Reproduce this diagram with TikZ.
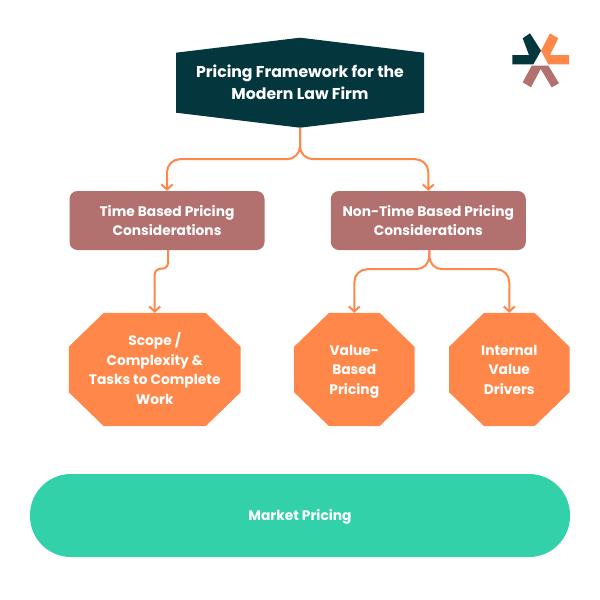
\documentclass[tikz,border=0pt]{standalone}
\usepackage{fontspec}
\usepackage{xcolor}
\usepackage{tikz}
\usetikzlibrary{arrows.meta,backgrounds}
\setmainfont{Poppins}
\definecolor{darkteal}{HTML}{03363D}
\definecolor{rosebrown}{HTML}{B2706E}
\definecolor{brightorange}{HTML}{FF8749}
\definecolor{marketgreen}{HTML}{33D1A9}
\newcommand{\labelstrut}{\rule{0pt}{1.2em}}

\begin{document}
\begin{tikzpicture}[x=1pt, y=1pt, >={Straight Barb[length=5pt,width=11pt]},
    label text/.style={text=white, font=\bfseries\fontsize{13.8pt}{19.6pt}\selectfont, align=center, inner sep=0pt},
    rose box/.style={label text, fill=rosebrown, rounded corners=8pt, minimum width=195pt, minimum height=59pt},
    octa box/.style={label text, minimum height=113pt},
    link/.style={->, draw=brightorange, line width=2pt}]
    \useasboundingbox (0,0) rectangle (600,-600);

    \fill[darkteal] (176,-52.7) -- (300,-37.7) -- (424,-52.7) -- (424,-112.7) -- (300,-127.7) -- (176,-112.7) -- cycle;
    \node[label text, font=\bfseries\fontsize{15.7pt}{22pt}\selectfont, minimum width=248pt, minimum height=90pt] (framework) at (300,-82.7) {\labelstrut Pricing Framework for the\\Modern Law Firm\strut};

    \node[rose box, below of=framework, node distance=137.8pt, xshift=-133pt] (timebased) {\labelstrut Time Based Pricing\\Considerations\strut};
    \node[rose box, below of=framework, node distance=137.8pt, xshift=128.3pt] (nontime) {\labelstrut Non-Time Based Pricing\\Considerations\strut};
    \node[octa box, minimum width=171.5pt, below of=timebased, node distance=149pt, xshift=-12.3pt] (scope) {\labelstrut Scope /\\Complexity \&\\Tasks to Complete\\Work\strut};
    \node[octa box, minimum width=120pt, below of=nontime, node distance=149pt, xshift=-74pt] (value) {\labelstrut Value-\\Based\\Pricing\strut};
    \node[octa box, minimum width=120pt, below of=nontime, node distance=149pt, xshift=81pt] (internal) {\labelstrut Internal\\Value\\Drivers\strut};
    \node[label text, fill=marketgreen, rounded corners=41pt, minimum width=540pt, minimum height=83pt, below of=framework, node distance=432.8pt] (market) {\labelstrut Market Pricing\strut};

    % octagons go behind their texts
    \begin{scope}[on background layer]
        \foreach \boxname in {scope,value,internal}
            \fill[brightorange] ([xshift=35pt]\boxname.north west) -- ([xshift=-35pt]\boxname.north east) -- ([yshift=-34pt]\boxname.north east) -- ([yshift=34pt]\boxname.south east) -- ([xshift=-35pt]\boxname.south east) -- ([xshift=35pt]\boxname.south west) -- ([yshift=34pt]\boxname.south west) -- ([yshift=-34pt]\boxname.north west) -- cycle;
    \end{scope}

    \draw[link, rounded corners=13pt] (framework.south) -- ++(0,-31.3) -| (timebased.north);
    \draw[link, rounded corners=13pt] (framework.south) -- ++(0,-31.3) -| (nontime.north);
    \draw[link, rounded corners=6pt] ([xshift=1pt]timebased.south) -- ++(0,-18.5) -| (scope.north);
    \draw[link, rounded corners=13pt] ([xshift=1pt]nontime.south) -- ++(0,-19) -| (value.north);
    \draw[link, rounded corners=13pt] ([xshift=1pt]nontime.south) -- ++(0,-19) -| (internal.north);

    % logo
    \fill[darkteal] (522.7,-38.3) -- (530,-33.3) -- (541,-50.7) -- (533.3,-64.3) -- (512.3,-64.3) -- (512.3,-55) -- (529,-55) -- cycle;
    \fill[brightorange] (550,-33.3) -- (558.3,-38.3) -- (550,-55) -- (569,-55) -- (569,-64.3) -- (548.3,-64.3) -- (541,-50.7) -- cycle;
    \fill[rosebrown] (531.7,-65.7) -- (548.3,-65.7) -- (559,-83.3) -- (551.7,-87.3) -- (540.7,-69) -- (531,-87.3) -- (522.7,-82.3) -- cycle;
\end{tikzpicture}
\end{document}
